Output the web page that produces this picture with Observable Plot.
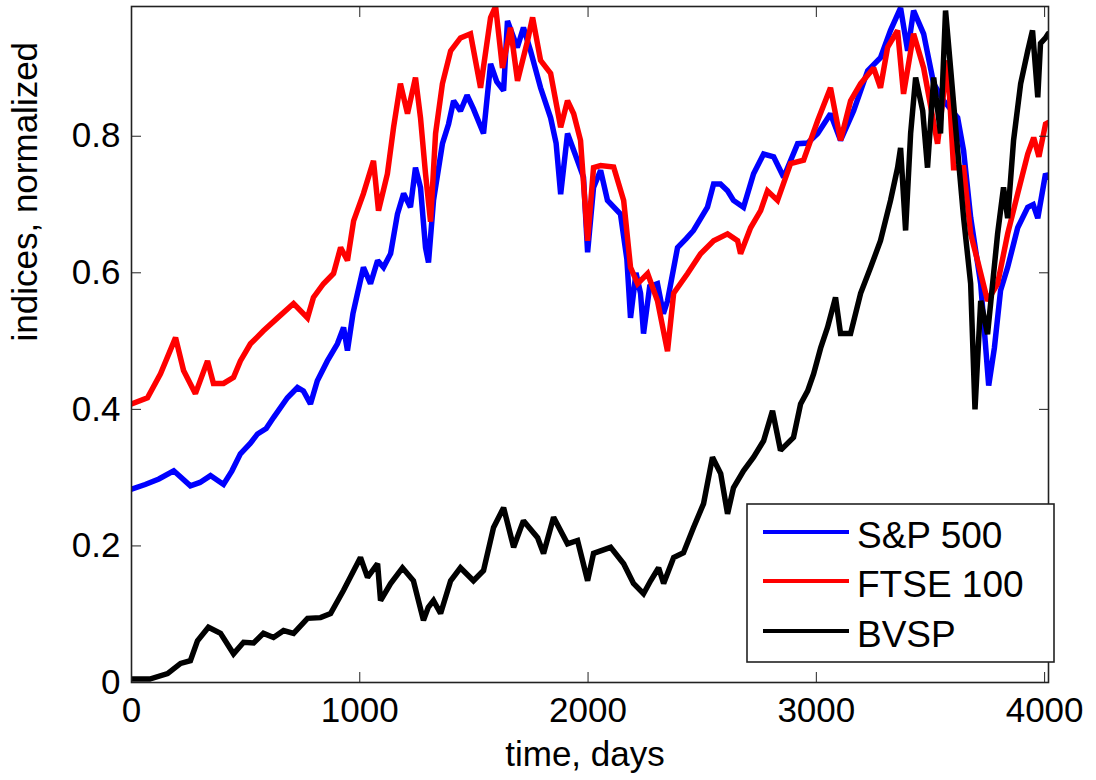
<!DOCTYPE html>
<html>
<head>
<meta charset="utf-8">
<script src="https://cdn.jsdelivr.net/npm/d3@7"></script>
<script src="https://cdn.jsdelivr.net/npm/@observablehq/plot@0.6"></script>
<style>
  html, body { margin: 0; padding: 0; background: #fff; }
</style>
</head>
<body>
<div id="chart"></div>
<script>
// ---- data ----
const seriesNames = ["S&P 500", "FTSE 100", "BVSP"];
const seriesColors = ["#0000ff", "#ff0000", "#000000"];

const spDays = [0,60,120,185,258,300,346,403,440,477,520,552,590,622,683,727,753,784,814,858,902,929,946,970,990,1016,1047,1078,1104,1135,1165,1192,1222,1244,1266,1288,1301,1323,1362,1389,1411,1441,1470,1498,1542,1573,1600,1630,1647,1690,1717,1748,1792,1836,1860,1880,1910,1954,1980,1998,2024,2055,2085,2142,2170,2186,2210,2230,2243,2270,2304,2330,2348,2392,2430,2462,2523,2550,2580,2611,2637,2681,2725,2769,2813,2857,2918,2962,3006,3062,3106,3163,3225,3281,3325,3369,3400,3426,3470,3514,3558,3619,3645,3676,3720,3755,3780,3807,3838,3882,3926,3950,3970,4004,4015];
const spVals = [0.283,0.29,0.298,0.31,0.288,0.293,0.303,0.29,0.31,0.335,0.35,0.364,0.372,0.388,0.417,0.432,0.427,0.408,0.442,0.471,0.496,0.52,0.486,0.54,0.57,0.608,0.584,0.618,0.608,0.628,0.686,0.716,0.696,0.754,0.725,0.637,0.615,0.706,0.789,0.818,0.852,0.837,0.86,0.84,0.804,0.906,0.88,0.867,0.969,0.93,0.959,0.925,0.871,0.827,0.79,0.715,0.804,0.764,0.74,0.63,0.725,0.75,0.706,0.686,0.62,0.534,0.6,0.57,0.511,0.58,0.584,0.54,0.559,0.637,0.65,0.662,0.696,0.73,0.73,0.72,0.706,0.696,0.745,0.774,0.77,0.74,0.789,0.79,0.804,0.833,0.794,0.837,0.896,0.915,0.955,0.988,0.925,0.984,0.95,0.877,0.852,0.827,0.779,0.681,0.584,0.435,0.49,0.574,0.608,0.666,0.696,0.70,0.68,0.745,0.74];

const ftDays = [0,70,127,193,228,280,333,359,403,447,477,521,578,640,710,771,797,841,885,916,946,973,1016,1060,1082,1121,1148,1178,1209,1244,1266,1288,1310,1332,1362,1398,1441,1485,1529,1573,1595,1625,1660,1691,1735,1757,1792,1836,1880,1910,1937,1967,1998,2024,2055,2112,2156,2186,2217,2261,2304,2348,2375,2436,2493,2550,2611,2655,2668,2712,2756,2786,2830,2887,2944,3006,3062,3106,3150,3194,3251,3281,3312,3356,3382,3426,3470,3531,3575,3601,3645,3676,3706,3750,3794,3838,3882,3926,3952,3975,4004,4015];
const ftVals = [0.408,0.417,0.452,0.505,0.457,0.423,0.471,0.438,0.438,0.447,0.471,0.496,0.515,0.534,0.555,0.534,0.564,0.584,0.599,0.637,0.618,0.676,0.716,0.764,0.691,0.745,0.813,0.877,0.833,0.886,0.827,0.745,0.675,0.804,0.877,0.925,0.944,0.95,0.871,0.974,0.99,0.90,0.959,0.881,0.94,0.974,0.911,0.892,0.813,0.852,0.833,0.794,0.647,0.754,0.757,0.755,0.706,0.608,0.584,0.599,0.559,0.485,0.57,0.599,0.628,0.647,0.657,0.647,0.628,0.666,0.691,0.72,0.706,0.76,0.765,0.823,0.871,0.794,0.852,0.877,0.90,0.871,0.93,0.955,0.862,0.95,0.90,0.789,0.911,0.754,0.754,0.657,0.618,0.559,0.584,0.657,0.716,0.774,0.798,0.77,0.818,0.82];

const bvDays = [0,80,158,215,258,289,337,390,447,491,535,578,622,666,710,771,828,872,929,1003,1034,1078,1091,1135,1187,1235,1279,1300,1323,1354,1398,1441,1498,1542,1586,1630,1674,1717,1779,1805,1849,1910,1954,1998,2024,2099,2156,2199,2243,2274,2309,2331,2375,2418,2462,2506,2545,2581,2611,2637,2681,2725,2769,2808,2843,2900,2931,2962,2988,3019,3049,3084,3106,3150,3194,3238,3281,3325,3356,3369,3391,3413,3435,3466,3487,3514,3544,3566,3588,3619,3645,3676,3695,3720,3750,3794,3820,3838,3864,3895,3926,3947,3970,3982,4004,4015];
const bvVals = [0.005,0.005,0.013,0.028,0.032,0.061,0.081,0.072,0.042,0.059,0.058,0.072,0.066,0.076,0.072,0.094,0.095,0.101,0.135,0.183,0.154,0.174,0.12,0.145,0.168,0.149,0.091,0.11,0.12,0.101,0.149,0.168,0.149,0.164,0.227,0.256,0.198,0.237,0.212,0.189,0.242,0.203,0.208,0.149,0.189,0.198,0.174,0.145,0.13,0.149,0.168,0.145,0.183,0.19,0.227,0.262,0.33,0.306,0.247,0.285,0.31,0.33,0.354,0.398,0.34,0.359,0.408,0.427,0.452,0.49,0.52,0.564,0.511,0.511,0.57,0.608,0.647,0.706,0.754,0.783,0.662,0.804,0.886,0.837,0.754,0.886,0.804,0.984,0.90,0.779,0.681,0.584,0.40,0.559,0.51,0.657,0.725,0.68,0.794,0.877,0.925,0.955,0.857,0.936,0.944,0.95];

const xTicks = [0, 1000, 2000, 3000, 4000];
const xTickLabels = ["0", "1000", "2000", "3000", "4000"];
const yTicks = [0, 0.2, 0.4, 0.6, 0.8];
const yTickLabels = ["0", "0.2", "0.4", "0.6", "0.8"];
const xTitle = "time, days";
const yTitle = "indices, normalized";

// ---- build tidy rows ----
const toRows = (days, vals) => days.map((d, i) => ({day: d, v: vals[i]}));
const spRows = toRows(spDays, spVals);
const ftRows = toRows(ftDays, ftVals);
const bvRows = toRows(bvDays, bvVals);

const FONT = "'Liberation Sans', Arial, Helvetica, sans-serif";
const tickFont = 35;
const LW = 5.5;

const chart = Plot.plot({
  width: 1096,
  height: 780,
  marginLeft: 131,
  marginRight: 48,
  marginTop: 6,
  marginBottom: 98,
  style: {fontFamily: FONT, fontSize: tickFont + "px", background: "#fff", color: "#000"},
  x: {domain: [0, 4017]},
  y: {domain: [0, 0.99]},
  marks: [
    Plot.line(spRows, {x: "day", y: "v", stroke: seriesColors[0], strokeWidth: LW, strokeLinejoin: "miter", strokeMiterlimit: 2, clip: true}),
    Plot.line(ftRows, {x: "day", y: "v", stroke: seriesColors[1], strokeWidth: LW, strokeLinejoin: "miter", strokeMiterlimit: 2, clip: true}),
    Plot.line(bvRows, {x: "day", y: "v", stroke: seriesColors[2], strokeWidth: LW, strokeLinejoin: "miter", strokeMiterlimit: 2, clip: true}),
    Plot.frame({stroke: "#222", strokeWidth: 1.6}),
    // inward ticks on all four sides
    Plot.axisX({anchor: "bottom", ticks: xTicks, tickSize: 10, dy: -10, fill: "none", label: null, stroke: "#222"}),
    Plot.axisX({anchor: "top", ticks: xTicks, tickSize: 10, dy: 10, fill: "none", label: null, stroke: "#222"}),
    Plot.axisY({anchor: "left", ticks: yTicks, tickSize: 10, dx: 10, fill: "none", label: null, stroke: "#222"}),
    Plot.axisY({anchor: "right", ticks: yTicks, tickSize: 10, dx: -10, fill: "none", label: null, stroke: "#222"}),
    // tick labels
    Plot.axisX({anchor: "bottom", ticks: xTicks, tickSize: 0, tickPadding: 15, label: null,
      tickFormat: d => xTickLabels[xTicks.indexOf(d)]}),
    Plot.axisY({anchor: "left", ticks: yTicks, tickSize: 0, tickPadding: 11, label: null,
      tickFormat: d => yTickLabels[yTicks.indexOf(d)]}),
    // axis titles
    Plot.text([xTitle], {frameAnchor: "bottom", text: d => d, dy: 83, dx: -5, lineAnchor: "bottom", fontSize: tickFont}),
    Plot.text([yTitle], {frameAnchor: "left", text: d => d, rotate: -90, dx: -106, dy: -3, lineAnchor: "middle", fontSize: tickFont})
  ]
});

// ---- legend inside the axes (lower right) ----
const svg = d3.select(chart);
const lg = svg.append("g").attr("font-family", FONT).attr("font-size", 37).attr("text-anchor", "start");
lg.append("rect")
  .attr("x", 747).attr("y", 504).attr("width", 307).attr("height", 158)
  .attr("fill", "#fff").attr("stroke", "#222").attr("stroke-width", 1.6);
const rowY = [532, 581, 631];
seriesNames.forEach((name, i) => {
  lg.append("line")
    .attr("x1", 763).attr("x2", 849).attr("y1", rowY[i]).attr("y2", rowY[i])
    .attr("stroke", seriesColors[i]).attr("stroke-width", 4);
  lg.append("text")
    .attr("x", 857).attr("y", rowY[i] + 16)
    .attr("text-anchor", "start")
    .attr("fill", "#000")
    .text(name);
});

document.getElementById("chart").appendChild(chart);
</script>
</body>
</html>
